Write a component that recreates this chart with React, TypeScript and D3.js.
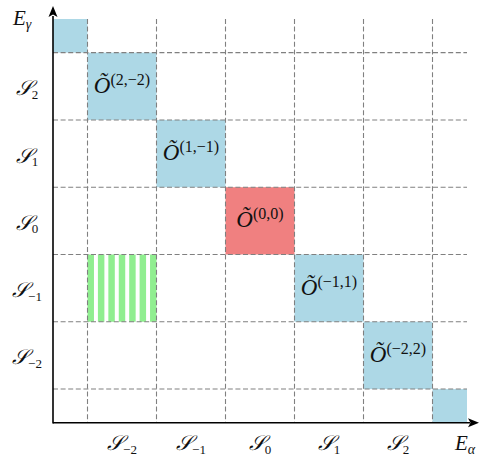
import React from "react";
import * as d3 from "d3";

// ---- data ----
const gridLines = [-2.5, -1.5, -0.5, 0.5, 1.5, 2.5];
const sectorIdx = ["−2", "−1", "0", "1", "2"];
const sectorPos = [-2, -1, 0, 1, 2];
const diagCols = [-2, -1, 0, 1, 2];
const diagRows = [2, 1, 0, -1, -2];
const diagLabels = ["(2,−2)", "(1,−1)", "(0,0)", "(−1,1)", "(−2,2)"];
const diagKinds = ["blue", "blue", "red", "blue", "blue"];
const cornerCells = [
  { x0: -3, x1: -2.5, y0: 2.5, y1: 3 },
  { x0: 2.5, x1: 3, y0: -3, y1: -2.5 },
];
const stripedCell = { col: -2, row: -1 };
const stripeCount = 7;

const W = 481;
const H = 458;
const colors: Record<string, string> = {
  blue: "#ADD8E6",
  red: "#F08080",
  green: "#90EE90",
};
const FONT = "'Liberation Serif', 'DejaVu Serif', serif";

export default function App() {
  const x = d3.scaleLinear().domain([-3, 3]).range([53, 467]);
  const y = d3.scaleLinear().domain([-3, 3]).range([422.7, 19]);

  const cellRect = (cx: number, cy: number) => ({
    x: x(cx - 0.5),
    y: y(cy + 0.5),
    w: x(cx + 0.5) - x(cx - 0.5),
    h: y(cy - 0.5) - y(cy + 0.5),
  });

  const sc = cellRect(stripedCell.col, stripedCell.row);
  const period = sc.w / (stripeCount - 1 + 0.62);
  const stripeW = period * 0.62;

  const Script = ({ sub }: { sub: string }) => (
    <>
      <tspan fontStyle="italic">𝒮</tspan>
      <tspan fontSize={13} dy={3.5}>{sub}</tspan>
    </>
  );

  return (
    <svg
      width={W}
      height={H}
      style={{ position: "absolute", left: 0, top: 0, background: "#fff" }}
      fontFamily={FONT}
    >
      {/* corner cells */}
      {cornerCells.map((c, i) => (
        <rect
          key={"c" + i}
          x={x(c.x0)}
          y={y(c.y1)}
          width={x(c.x1) - x(c.x0)}
          height={y(c.y0) - y(c.y1)}
          fill={colors.blue}
        />
      ))}
      {/* diagonal cells */}
      {diagCols.map((c, i) => {
        const r = cellRect(c, diagRows[i]);
        return (
          <rect key={"d" + i} x={r.x} y={r.y} width={r.w} height={r.h} fill={colors[diagKinds[i]]} />
        );
      })}
      {/* striped cell */}
      {d3.range(stripeCount).map((i) => (
        <rect
          key={"s" + i}
          x={sc.x + i * period}
          y={sc.y}
          width={stripeW}
          height={sc.h}
          fill={colors.green}
        />
      ))}
      {/* grid */}
      {gridLines.map((g) => (
        <line
          key={"v" + g}
          x1={x(g)}
          x2={x(g)}
          y1={y(3)}
          y2={y(-3)}
          stroke="#808080"
          strokeWidth={1.1}
          strokeDasharray="5,2.6"
        />
      ))}
      {gridLines.map((g) => (
        <line
          key={"h" + g}
          x1={x(-3)}
          x2={x(3)}
          y1={y(g)}
          y2={y(g)}
          stroke="#808080"
          strokeWidth={1.1}
          strokeDasharray="5,2.6"
        />
      ))}
      {/* axes */}
      <line x1={x(-3)} x2={470} y1={y(-3)} y2={y(-3)} stroke="#000" strokeWidth={1.6} />
      <line x1={x(-3)} x2={x(-3)} y1={y(-3) + 0.8} y2={16} stroke="#000" strokeWidth={1.6} />
      <path
        d={`M${479},${y(-3)} L${468},${y(-3) - 4.5} L${470.5},${y(-3)} L${468},${y(-3) + 4.5} Z`}
        fill="#000"
      />
      <path
        d={`M${x(-3)},6 L${x(-3) - 4.5},17 L${x(-3)},14.5 L${x(-3) + 4.5},17 Z`}
        fill="#000"
      />
      {/* diagonal labels */}
      {diagCols.map((c, i) => (
        <text
          key={"l" + i}
          x={x(c)}
          y={y(diagRows[i]) + 6.5}
          textAnchor="middle"
          fontSize={23}
          fill="#111"
        >
          <tspan fontStyle="italic">Õ</tspan>
          <tspan fontSize={16} dy={-8}>{diagLabels[i]}</tspan>
        </text>
      ))}
      {/* y labels */}
      {sectorPos.map((p, i) => (
        <text key={"y" + i} x={27} y={y(p) + 9} textAnchor="middle" fontSize={21} fill="#111">
          <Script sub={sectorIdx[i]} />
        </text>
      ))}
      {/* x labels */}
      {sectorPos.map((p, i) => (
        <text key={"x" + i} x={x(p)} y={450} textAnchor="middle" fontSize={21} fill="#111">
          <Script sub={sectorIdx[i]} />
        </text>
      ))}
      <text x={13} y={25} fontSize={21} fill="#111">
        <tspan fontStyle="italic">E</tspan>
        <tspan fontSize={14} dy={4} fontStyle="italic">γ</tspan>
      </text>
      <text x={455} y={450} fontSize={21} fill="#111">
        <tspan fontStyle="italic">E</tspan>
        <tspan fontSize={14} dy={3.5} fontStyle="italic">α</tspan>
      </text>
    </svg>
  );
}
